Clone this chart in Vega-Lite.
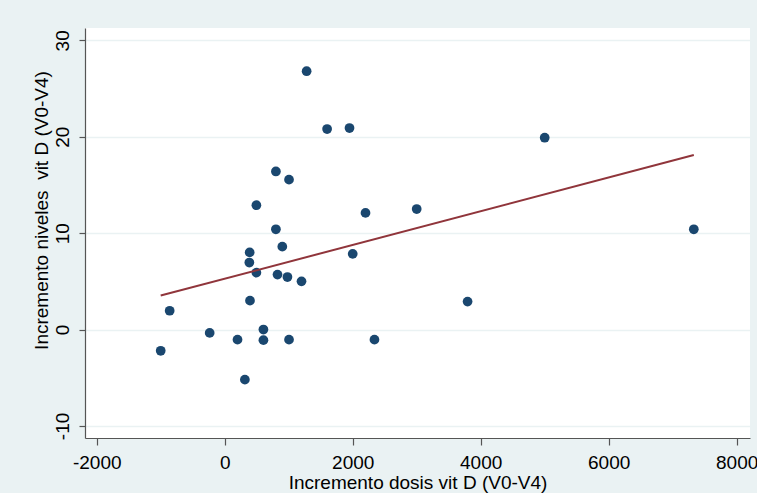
{
  "$schema": "https://vega.github.io/schema/vega-lite/v6.json",
  "width": 665,
  "height": 410,
  "autosize": "none",
  "padding": {"left": 85, "top": 28, "right": 7, "bottom": 55},
  "background": "#eaf2f3",
  "config": {
    "font": "Liberation Sans",
    "view": {"fill": "white", "stroke": null},
    "axis": {
      "labelFont": "Liberation Sans",
      "titleFont": "Liberation Sans",
      "labelFontSize": 19,
      "titleFontSize": 19,
      "titleFontWeight": "normal",
      "labelColor": "#000000",
      "titleColor": "#000000",
      "domainColor": "#555555",
      "tickColor": "#555555",
      "domainWidth": 1.2,
      "tickWidth": 1.2
    }
  },
  "data": {
    "values": [
      {"dosis": -1000, "niveles": -2.2},
      {"dosis": -860, "niveles": 1.95},
      {"dosis": -235, "niveles": -0.35},
      {"dosis": 200, "niveles": -1.05},
      {"dosis": 315, "niveles": -5.2},
      {"dosis": 390, "niveles": 8.0},
      {"dosis": 385, "niveles": 6.95},
      {"dosis": 395, "niveles": 3.0},
      {"dosis": 495, "niveles": 5.9},
      {"dosis": 495, "niveles": 12.9},
      {"dosis": 605, "niveles": 0.0},
      {"dosis": 605, "niveles": -1.1},
      {"dosis": 800, "niveles": 16.4},
      {"dosis": 800, "niveles": 10.4},
      {"dosis": 825, "niveles": 5.7},
      {"dosis": 900, "niveles": 8.6},
      {"dosis": 1005, "niveles": 15.55},
      {"dosis": 980, "niveles": 5.45},
      {"dosis": 1005, "niveles": -1.05},
      {"dosis": 1200, "niveles": 5.0},
      {"dosis": 1280, "niveles": 26.8},
      {"dosis": 1600, "niveles": 20.8},
      {"dosis": 1950, "niveles": 20.9},
      {"dosis": 2000, "niveles": 7.85},
      {"dosis": 2200, "niveles": 12.1},
      {"dosis": 2340, "niveles": -1.05},
      {"dosis": 3000, "niveles": 12.5},
      {"dosis": 3795, "niveles": 2.9},
      {"dosis": 5000, "niveles": 19.9},
      {"dosis": 7330, "niveles": 10.4}
    ]
  },
  "layer": [
    {
      "mark": {"type": "point", "filled": true, "size": 95, "color": "#1a476f", "opacity": 1},
      "encoding": {
        "x": {
          "field": "dosis", "type": "quantitative",
          "scale": {"domain": [-2183, 8208], "nice": false, "zero": false},
          "axis": {
            "title": "Incremento dosis vit D (V0-V4)",
            "values": [-2000, 0, 2000, 4000, 6000, 8000],
            "labelExpr": "'' + datum.value",
            "grid": false, "tickSize": 7, "labelPadding": 8, "titlePadding": 1,
            "labelFlush": false, "labelOverlap": false
          }
        },
        "y": {
          "field": "niveles", "type": "quantitative",
          "scale": {"domain": [-11.25, 31.28], "nice": false, "zero": false},
          "axis": {
            "title": "Incremento niveles \u00a0vit D (V0-V4)",
            "values": [-10, 0, 10, 20, 30],
            "labelExpr": "'' + datum.value",
            "grid": true, "gridColor": "#eaf2f3", "gridWidth": 1.5,
            "tickSize": 6, "labelAngle": -90, "labelAlign": "center", "labelBaseline": "bottom",
            "labelPadding": 7, "titlePadding": 2, "titleY": 182,
            "labelFlush": false, "labelOverlap": false
          }
        }
      }
    },
    {
      "transform": [{"regression": "niveles", "on": "dosis", "extent": [-1000, 7330]}],
      "mark": {"type": "line", "color": "#90353b", "strokeWidth": 2},
      "encoding": {
        "x": {"field": "dosis", "type": "quantitative"},
        "y": {"field": "niveles", "type": "quantitative"}
      }
    }
  ]
}
